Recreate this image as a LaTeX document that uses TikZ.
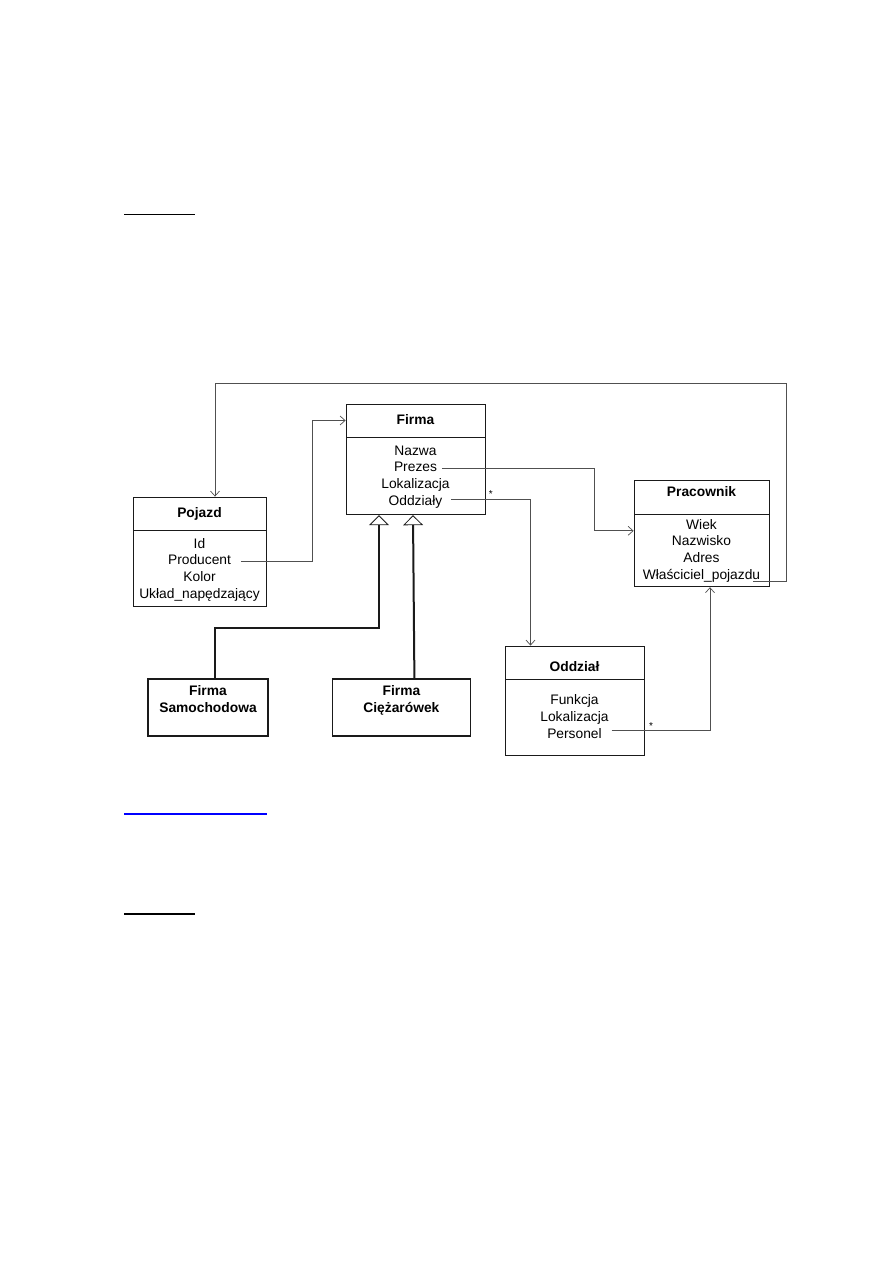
\documentclass[tikz,border=0pt]{standalone}
\usepackage{fontspec}
\setmainfont{Liberation Sans}
\usetikzlibrary{arrows.meta,positioning,calc}
\definecolor{ink}{HTML}{1A1A1A}
\definecolor{wire}{HTML}{505050}
\definecolor{linkblue}{HTML}{0000FF}
\tikzset{
  head/.style={draw=ink, line width=0.8pt, inner sep=0pt, text height=10pt, text depth=3pt, font=\fontsize{13.8}{17}\selectfont\bfseries},
  body/.style={draw=ink, line width=0.8pt, inner sep=0pt},
  attr/.style={inner sep=0pt, outer sep=0pt, minimum height=16.8pt, text height=10pt, text depth=3pt, font=\fontsize{13.8}{17}\selectfont},
  subclass/.style={draw=ink, line width=1.4pt, align=center, inner sep=0pt, minimum height=57pt, font=\fontsize{13.8}{17}\selectfont\bfseries},
  assoc/.style={-{Straight Barb[length=5pt,width=9pt]}, draw=wire, line width=0.7pt},
  inherit/.style={-{Triangle[open,length=10pt,width=20pt,line width=0.8pt]}, draw=ink, line width=2pt},
  mult/.style={inner sep=1pt, font=\fontsize{10}{12}\selectfont}
}
\begin{document}
\begin{tikzpicture}[x=1pt, y=1pt]
  \useasboundingbox (0,0) rectangle (893,-1263);

  % classes
  \node[head, minimum width=139pt, minimum height=33pt] (firma) at (415.5,-420.5) {Firma};
  \node[body, minimum width=139pt, minimum height=77pt, below=0pt of firma] (firma body) {};
  \node[attr, below=5.8pt of firma] (nazwa) {Nazwa};
  \node[attr, below=0pt of nazwa] (prezes) {Prezes};
  \node[attr, below=0pt of prezes] (lokalizacja) {Lokalizacja};
  \node[attr, below=0pt of lokalizacja] (oddzialy) {Oddziały};

  \node[head, minimum width=133pt, minimum height=33pt] (pojazd) at (199.5,-513.5) {Pojazd};
  \node[body, minimum width=133pt, minimum height=76pt, below=0pt of pojazd] (pojazd body) {};
  \node[attr, below=5.8pt of pojazd] (id) {Id};
  \node[attr, below=0pt of id] (producent) {Producent};
  \node[attr, below=0pt of producent] (kolor) {Kolor};
  \node[attr, below=0pt of kolor] (uklad) {Układ\_napędzający};

  \node[head, minimum width=135pt, minimum height=34pt, text depth=11.6pt] (pracownik) at (701.5,-497) {Pracownik};
  \node[body, minimum width=135pt, minimum height=72pt, below=0pt of pracownik] (pracownik body) {};
  \node[attr, below=2.8pt of pracownik] (wiek) {Wiek};
  \node[attr, below=0pt of wiek] (nazwisko) {Nazwisko};
  \node[attr, below=0pt of nazwisko] (adres) {Adres};
  \node[attr, below=0pt of adres] (wlasciciel) {Właściciel\_pojazdu};

  \node[head, minimum width=139pt, minimum height=33pt, text height=21pt] (oddzial) at (574.5,-662.5) {Oddział};
  \node[body, minimum width=139pt, minimum height=76pt, below=0pt of oddzial] (oddzial body) {};
  \node[attr, below=13.3pt of oddzial] (funkcja) {Funkcja};
  \node[attr, below=0pt of funkcja] (lokalizacja2) {Lokalizacja};
  \node[attr, below=0pt of lokalizacja2] (personel) {Personel};

  \node[subclass, minimum width=120pt] (samochodowa) at (208,-707.5) {Firma\\Samochodowa\\\mbox{}};
  \node[subclass, minimum width=138pt, right=63pt of samochodowa] (ciezarowek) {Firma\\Ciężarówek\\\mbox{}};

  % associations
  \draw[assoc] ([xshift=10pt]producent.east) -- ($(producent.east -| pojazd body.east)+(46,0)$) |- (firma.west);
  \draw[assoc] ([xshift=5pt]prezes.east) -- ($(prezes.east -| firma body.east)+(109,0)$) |- ([yshift=20pt]pracownik body.west);
  \draw[assoc] ([xshift=9pt,yshift=3pt]oddzialy.east) -| node[mult, pos=0.25, above] (oddzialy star) {*} ([xshift=-44pt]oddzial.north);
  \draw[assoc] ([xshift=10pt,yshift=4pt]personel.east) -| node[mult, pos=0.2, above] (personel star) {*} ([xshift=8.5pt]pracownik body.south);
  \draw[assoc] ([xshift=-7pt,yshift=-5pt]wlasciciel.east) -- ($(wlasciciel.east -| pracownik body.east)+(17,-5)$) |- ++(0,198) -| ([xshift=15.5pt]pojazd.north);

  % inheritance
  \draw[inherit] ([xshift=7pt]samochodowa.north) -- ++(0,50) -| ([xshift=-36.5pt]firma body.south);
  \draw[inherit] ([xshift=13pt]ciezarowek.north) -- ([xshift=-2.5pt]firma body.south);

  % page rules
  \draw[line width=1.2pt] (124,-214.5) -- (195,-214.5);
  \draw[linkblue, line width=1.6pt] (124,-814) -- (267,-814);
  \draw[line width=1.2pt] (124,-914) -- (195,-914);
\end{tikzpicture}
\end{document}
